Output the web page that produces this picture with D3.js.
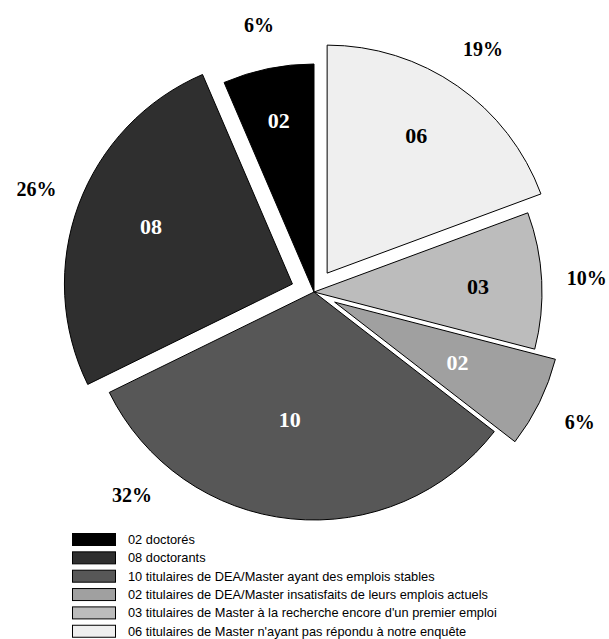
<!DOCTYPE html>
<html>
<head>
<meta charset="utf-8">
<script src="https://cdn.jsdelivr.net/npm/d3@7"></script>
<style>
  html, body { margin: 0; padding: 0; background: #fff; }
  svg { display: block; }
</style>
</head>
<body>
<div id="chart"></div>
<script>
// Survey outcome of graduates (counts)
const categories = [
  "02 doctorés",
  "08 doctorants",
  "10 titulaires de DEA/Master ayant des emplois stables",
  "02 titulaires de DEA/Master insatisfaits de leurs emplois actuels",
  "03 titulaires de Master à la recherche encore d'un premier emploi",
  "06 titulaires de Master n'ayant pas répondu à notre enquête"
];
const counts = [2, 8, 10, 2, 3, 6];
const countLabels = ["02", "08", "10", "02", "03", "06"];
const colors = ["#000000", "#2f2f2f", "#575757", "#a0a0a0", "#bcbcbc", "#efefef"];
const innerTextColors = ["#fff", "#fff", "#fff", "#fff", "#000", "#000"];
const exploded = [false, true, false, true, false, true];

// label layout: fraction of radius for the inside value, angle nudges (degrees)
const innerRadiusFrac = [0.77, 0.67, 0.57, 0.6, 0.72, 0.72];
const innerAngleShift = [0, 2, 5, 0, 1, -2];
const pctAngleShift = [0, 0, 36, 0, 0, 0];

const W = 609, H = 639;
const cx = 314, cy = 292, R = 228, explode = 23;

const svg = d3.select("#chart").append("svg")
  .attr("width", W).attr("height", H);

svg.append("rect").attr("width", W).attr("height", H).attr("fill", "#fff");

const total = d3.sum(counts);
const pie = d3.pie().sort(null).startAngle(0).endAngle(-2 * Math.PI);
const arcs = pie(counts);
const arc = d3.arc().innerRadius(0).outerRadius(R);

const g = svg.append("g").attr("transform", `translate(${cx},${cy})`);

const deg = Math.PI / 180;
const polar = (a, r) => [Math.sin(a) * r, -Math.cos(a) * r];

const slices = g.selectAll("g.slice").data(arcs).enter().append("g")
  .attr("class", "slice")
  .attr("transform", (d, i) => {
    const mid = (d.startAngle + d.endAngle) / 2;
    const off = exploded[i] ? explode : 0;
    const [x, y] = polar(mid, off);
    return `translate(${x},${y})`;
  });

slices.append("path")
  .attr("d", arc)
  .attr("fill", (d, i) => colors[i])
  .attr("stroke", "#000")
  .attr("stroke-width", 1)
  .attr("stroke-linejoin", "miter");

slices.append("text")
  .attr("transform", (d, i) => {
    const mid = (d.startAngle + d.endAngle) / 2 + innerAngleShift[i] * deg;
    const [x, y] = polar(mid, R * innerRadiusFrac[i]);
    return `translate(${x},${y})`;
  })
  .attr("text-anchor", "middle")
  .attr("dy", "0.35em")
  .attr("font-family", "'Liberation Serif', 'Times New Roman', serif")
  .attr("font-weight", "bold")
  .attr("font-size", 22)
  .attr("fill", (d, i) => innerTextColors[i])
  .text((d, i) => countLabels[i]);

slices.append("text")
  .attr("transform", (d, i) => {
    const mid = (d.startAngle + d.endAngle) / 2 + pctAngleShift[i] * deg;
    const [x, y] = polar(mid, R + 45);
    return `translate(${x},${y})`;
  })
  .attr("text-anchor", "middle")
  .attr("dy", "0.35em")
  .attr("font-family", "'Liberation Serif', 'Times New Roman', serif")
  .attr("font-weight", "bold")
  .attr("font-size", 20)
  .attr("fill", "#000")
  .text(d => d3.format(".0f")(d.value / total * 100) + "%");

// legend
const legend = svg.append("g").attr("transform", "translate(72,533)");
const rowH = 18.35;
const rows = legend.selectAll("g").data(categories).enter().append("g")
  .attr("transform", (d, i) => `translate(0,${i * rowH})`);

rows.append("rect")
  .attr("x", 0.5).attr("y", 0.5)
  .attr("width", 43).attr("height", 12)
  .attr("fill", (d, i) => colors[i])
  .attr("stroke", "#000")
  .attr("stroke-width", 1);

rows.append("text")
  .attr("x", 56).attr("y", 6.5)
  .attr("dy", "0.35em")
  .attr("font-family", "'Liberation Sans', Arial, sans-serif")
  .attr("font-size", 12.8)
  .attr("fill", "#000")
  .text(d => d);
</script>
</body>
</html>
